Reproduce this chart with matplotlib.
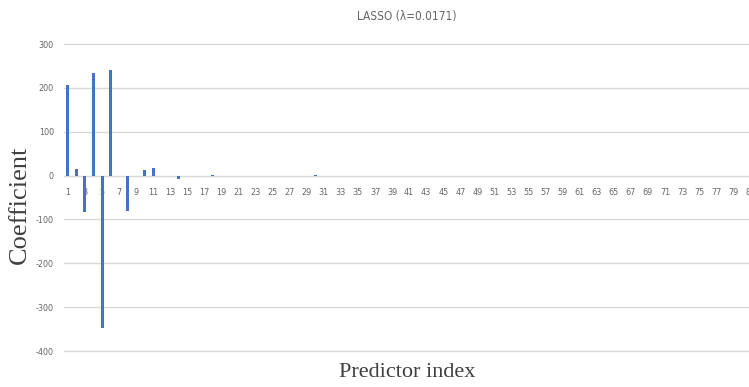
import matplotlib
matplotlib.use('Agg')
import matplotlib.pyplot as plt

# coefficients by predictor index (indices not listed are 0)
n_pred = 84
nonzero_idx = [1, 2, 3, 4, 5, 6, 8, 10, 11, 14, 18, 30]
nonzero_val = [207, 15, -82, 235, -348, 240, -80, 12, 17, -7, 2, 2]
yticks = [300, 200, 100, 0, -100, -200, -300, -400]

idx = list(range(1, n_pred + 1))
coef = [0.0] * n_pred
for i, v in zip(nonzero_idx, nonzero_val):
    coef[i - 1] = v

fig = plt.figure(figsize=(7.49, 3.87), dpi=100)
# plot area runs past the right edge like the cropped original
ax = fig.add_axes([0.085, 0.093, 716.5 / 749, 0.793])

ax.bar(idx, coef, width=0.35, color='#4472C4', zorder=3)
ax.set_xlim(0.5, n_pred + 0.5)
ax.set_ylim(-400, 300)
ax.set_yticks(yticks)
ax.set_yticklabels([str(t) for t in yticks])
ax.grid(axis='y', color='#D9D9D9', lw=1, zorder=0)
for gl in ax.get_ygridlines():
    gl.set_clip_on(False)

for s in ax.spines.values():
    s.set_visible(False)
ax.spines['bottom'].set_position(('data', 0))

ax.set_xticks(idx[::2])
ax.set_xticklabels([str(i) for i in idx[::2]], family='DejaVu Sans', fontstretch='condensed',
                   fontsize=6.5, color='#666666')
ax.tick_params(axis='x', length=0, pad=9)
ax.tick_params(axis='y', length=0, pad=7, labelsize=6.5, labelcolor='#666666')
for lb in ax.get_yticklabels():
    lb.set_fontstretch('condensed')

fig.text(0.543, 0.958, 'LASSO (λ=0.0171)', ha='center', va='center', fontsize=8.5,
         color='#666666', family='DejaVu Sans', fontstretch='condensed')
fig.text(0.543, 0.038, 'Predictor index', ha='center', va='center', fontsize=16,
         family='Liberation Serif', color='#404040')
fig.text(0.027, 0.47, 'Coefficient', ha='center', va='center', rotation=90, fontsize=19,
         family='Liberation Serif', color='#404040')

fig.savefig('out.png', dpi=100)
